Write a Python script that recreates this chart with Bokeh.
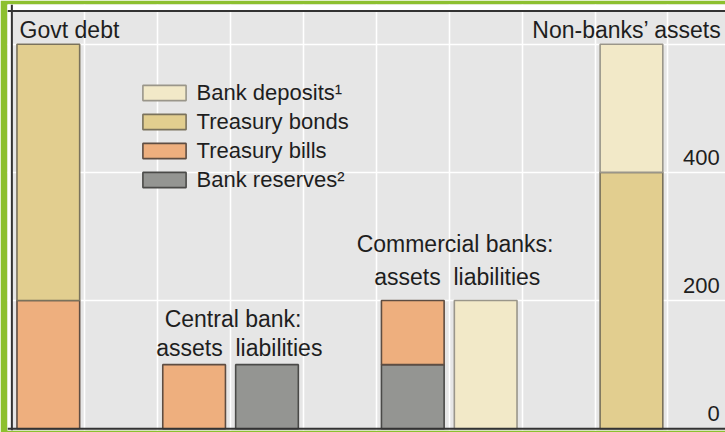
import numpy as np
from bokeh.plotting import figure
from bokeh.models import Range1d, Span, Legend, LegendItem, ColumnDataSource, BoxAnnotation
from bokeh.core.properties import value
from bokeh.embed import file_html
from bokeh.resources import INLINE

# ---- data ----
groups = ["Govt debt", "Central bank assets", "Central bank liabilities",
          "Commercial banks assets", "Commercial banks liabilities", "Non-banks assets"]
reserves = [0, 0, 100, 100, 0, 0]
bills = [200, 100, 0, 100, 0, 0]
bonds = [400, 0, 0, 0, 0, 400]
deposits = [0, 0, 0, 0, 200, 200]
series_names = ["Bank reserves\u00b2", "Treasury bills", "Treasury bonds", "Bank deposits\u00b9"]
y_tick_values = [0, 200, 400]
y_tick_labels = ["0", "200", "400"]

# ---- layout / style ----
slots = [0.5, 2.5, 3.5, 5.5, 6.5, 8.5]
BAR_W = 0.86
fills = ["#949592", "#eeaf7e", "#e2ce8f", "#f2e9c8"]
lines = ["#4a4a48", "#5e4d42", "#7a725c", "#9a968a"]
FONT = "Liberation Sans"
TXT = "#1e1e1e"
GREEN = "#8dc02f"
X0, X1 = -0.06, 9.79
Y0, Y1 = -2.8, 662
TOP = 652
TEXT_SHIFT = -8

W, H = 725, 432
p = figure(width=W, height=H, output_backend="svg", toolbar_location=None,
           x_range=Range1d(X0, X1), y_range=Range1d(Y0, Y1),
           min_border_left=7, min_border_top=4, min_border_right=0, min_border_bottom=2)
p.xaxis.visible = False
p.yaxis.visible = False
p.background_fill_color = "#e6e6e6"
p.border_fill_color = GREEN
p.outline_line_color = None
p.xgrid.ticker = list(range(1, 10))
p.ygrid.ticker = [200, 400, 600]
p.grid.grid_line_color = "white"
p.grid.grid_line_width = 1.6

all_series = [reserves, bills, bonds, deposits]
bottom = np.zeros(len(groups))
renderers = []
for vals, fc, lc in zip(all_series, fills, lines):
    v = np.array(vals, dtype=float)
    mask = v > 0
    src = ColumnDataSource(dict(x=np.array(slots)[mask], bottom=bottom[mask], top=(bottom + v)[mask]))
    r = p.vbar(x="x", bottom="bottom", top="top", width=BAR_W, source=src,
               fill_color=fc, line_color=lc, line_width=1.6)
    renderers.append(r)
    bottom = bottom + v

# white bands between green frame and plot frame
p.add_layout(BoxAnnotation(left=X0, right=0, bottom=Y0, top=Y1, fill_color="white",
                           fill_alpha=1, line_color=None))
p.add_layout(BoxAnnotation(left=X0, right=X1, bottom=TOP, top=Y1, fill_color="white",
                           fill_alpha=1, line_color=None))
# frame lines
for loc, dim in [(TOP, "width"), (0, "width"), (0, "height")]:
    p.add_layout(Span(location=loc, dimension=dim, line_color="#333333", line_width=2))

# texts
def txt(x, y, s, align="left", size="23px"):
    p.text(x=[x], y=[y], text=[s], text_font=value(FONT), text_font_size=size,
           text_color=TXT, text_align=align, text_baseline="alphabetic", y_offset=TEXT_SHIFT)

txt(0.106, 610, "Govt debt")
txt(9.735, 610, "Non-banks\u2019 assets", align="right")
txt(3.034, 159, "Central bank:", align="center")
txt(3.12, 114, "assets\u00a0 liabilities", align="center")
txt(6.08, 276, "Commercial banks:", align="center")
txt(6.11, 225, "assets\u00a0 liabilities", align="center")

p.text(x=[9.71] * len(y_tick_values), y=y_tick_values, text=y_tick_labels,
       text_font=value(FONT), text_font_size="22px", text_color=TXT,
       text_align="right", text_baseline="alphabetic", y_offset=-7 + TEXT_SHIFT)

# legend (top-to-bottom: deposits, bonds, bills, reserves)
items = [LegendItem(label=series_names[i], renderers=[renderers[i]]) for i in [3, 2, 1, 0]]
legend = Legend(items=items, location=(129.6, 237.5), orientation="vertical",
                glyph_width=54, glyph_height=19, label_height=25, spacing=3,
                label_standoff=6, padding=0, margin=0,
                label_text_font=FONT, label_text_font_size="22px", label_text_color=TXT,
                border_line_color=None, background_fill_alpha=0)
p.add_layout(legend)

open("out.html", "w").write(file_html(p, INLINE))
